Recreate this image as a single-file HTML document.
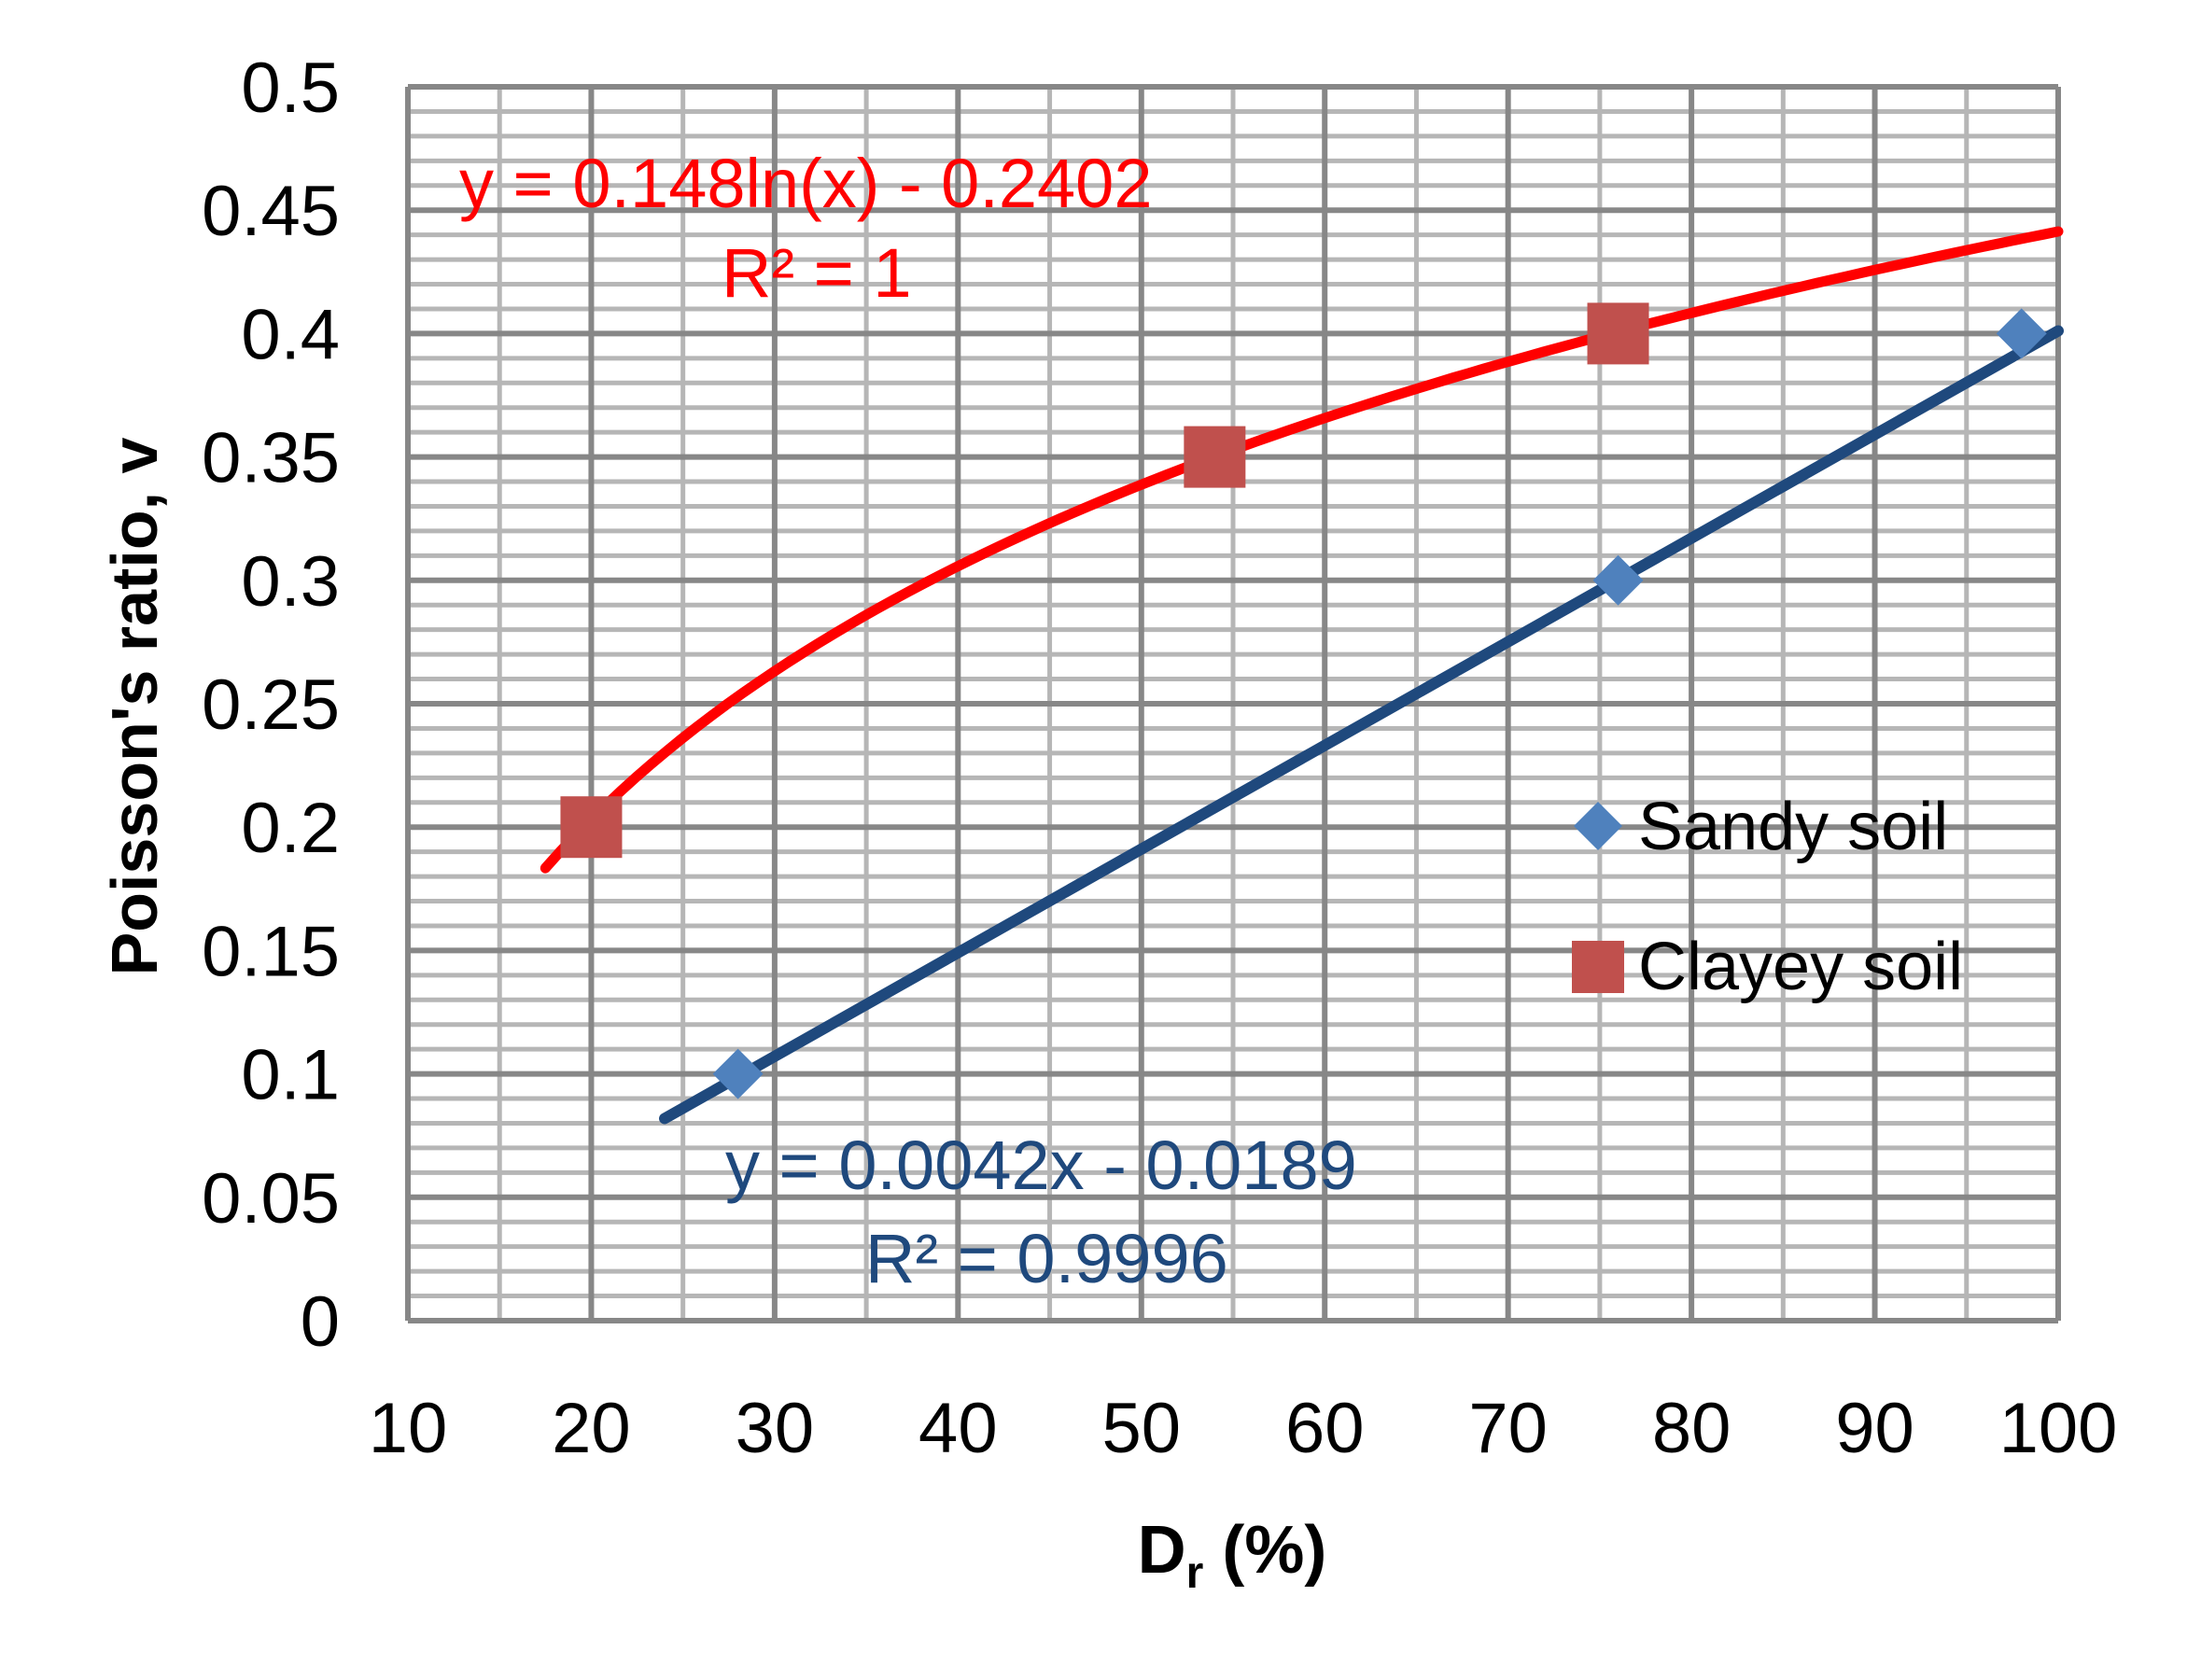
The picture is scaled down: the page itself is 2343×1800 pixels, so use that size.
<!DOCTYPE html>
<html><head><meta charset="utf-8"><style>
html,body{margin:0;padding:0;background:#fff}
svg{display:block;font-family:"Liberation Sans",Calibri,sans-serif}
</style></head><body>
<svg id="chart" width="2343" height="1800" viewBox="0 0 2343 1800" xmlns="http://www.w3.org/2000/svg">
<g id="grid"></g>
<g id="axes"></g>
<g id="trends"></g>
<g id="marks"></g>
<text x="492" y="222" font-size="74" fill="#ff0000">y = 0.148ln(x) - 0.2402</text>
<text x="773" y="318" font-size="74" fill="#ff0000">R² = 1</text>
<text x="777" y="1274" font-size="74" fill="#1f497d">y = 0.0042x - 0.0189</text>
<text x="927" y="1374" font-size="74" fill="#1f497d">R² = 0.9996</text>
<g>
<polygon points="1712,859 1738,885 1712,911 1686,885" fill="#4f81bd"/>
<text x="1755" y="910" font-size="72" fill="#000">Sandy soil</text>
<rect x="1684" y="1008" width="56" height="56" fill="#c0504d"/>
<text x="1755" y="1060" font-size="72" fill="#000">Clayey soil</text>
</g>
<text transform="translate(168,757) rotate(-90)" text-anchor="middle" font-size="70" font-weight="bold">Poisson's ratio, v</text>
<text x="1320" y="1685" text-anchor="middle" font-size="72" font-weight="bold">D<tspan font-size="48" dy="16">r</tspan><tspan dy="-16"> (%)</tspan></text>
</svg>
<script>
const xTicks=[10,20,30,40,50,60,70,80,90,100];
const yTicks=[0,0.05,0.1,0.15,0.2,0.25,0.3,0.35,0.4,0.45,0.5];
const sandyX=[28,76,98];
const sandyY=[0.1,0.3,0.4];
const clayX=[20,54,76];
const clayY=[0.2,0.35,0.4];
const logA=0.148, logB=-0.2402, logRange=[17.5,100];
const linA=0.0042, linB=-0.0189, linRange=[24,100];

const L=437,R=2205,T=93,B=1415;
const xs=v=>L+(v-10)/90*(R-L);
const ys=v=>B-v/0.5*(B-T);
const NS="http://www.w3.org/2000/svg";
function mk(tag,parent,attrs){const e=document.createElementNS(NS,tag);for(const k in attrs)e.setAttribute(k,attrs[k]);document.getElementById(parent).appendChild(e);return e;}
for(let i=0;i<=50;i++){if(i%5===0)continue;const y=ys(i*0.01);
const e=mk('line','grid',{x1:L,x2:R,y1:y,y2:y,stroke:'#b6b6b6','stroke-width':5});

}
for(let v=15;v<100;v+=10){const x=xs(v);
const e=mk('line','grid',{x1:x,x2:x,y1:T,y2:B,stroke:'#b6b6b6','stroke-width':5});

}
yTicks.forEach(v=>{const y=ys(v);
const e=mk('line','grid',{x1:L,x2:R,y1:y,y2:y,stroke:'#878787','stroke-width':6});


const t=mk('text','axes',{x:364,y:y+27,'text-anchor':'end','font-size':76});
t.textContent=String(v);

});
xTicks.forEach(v=>{const x=xs(v);
const e=mk('line','grid',{x1:x,x2:x,y1:T,y2:B,stroke:'#878787','stroke-width':6});


const t=mk('text','axes',{x:x,y:1556,'text-anchor':'middle','font-size':76});
t.textContent=String(v);

});
let p=[];for(let i=0;i<=100;i++){const v=logRange[0]+(logRange[1]-logRange[0])*i/100;p.push(xs(v).toFixed(1)+','+ys(logA*Math.log(v)+logB).toFixed(1));}
const rl=mk('polyline','trends',{points:p.join(' '),fill:'none',stroke:'#ff0000','stroke-width':11,'stroke-linecap':'round'});


const bl=mk('line','trends',{x1:xs(linRange[0]),y1:ys(linA*linRange[0]+linB),x2:xs(linRange[1]),y2:ys(linA*linRange[1]+linB),stroke:'#1f497d','stroke-width':12,'stroke-linecap':'round'});


sandyX.forEach((v,i)=>{const x=xs(v),y=ys(sandyY[i]);
const e=mk('polygon','marks',{points:`${x},${y-27} ${x+27},${y} ${x},${y+27} ${x-27},${y}`,fill:'#4f81bd'});

});
clayX.forEach((v,i)=>{const x=xs(v),y=ys(clayY[i]);
const e=mk('rect','marks',{x:x-33,y:y-33,width:66,height:66,fill:'#c0504d'});

});
</script>
</body></html>
